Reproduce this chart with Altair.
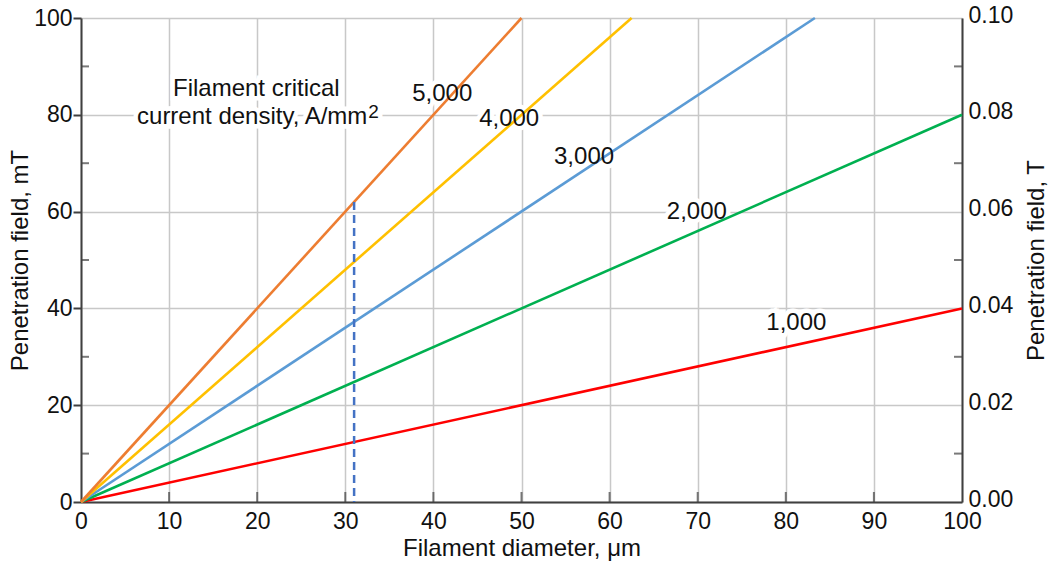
import altair as alt
import pandas as pd

# Filament critical current densities (A/mm²) and the colour of each line
jc_labels = ["1,000", "2,000", "3,000", "4,000", "5,000"]
line_colors = ["#FF0000", "#00B050", "#5B9BD5", "#FFC000", "#ED7D31"]

# Every line starts at the origin and ends here (diameter µm, field mT)
end_diameter = [100, 100, 83.3, 62.5, 50]
end_field = [40, 80, 100, 100, 100]

# Where each density label sits (diameter, field)
label_x = [81.2, 69.9, 57.1, 48.6, 41.0]
label_y = [36.9, 59.9, 71.3, 79.2, 84.4]

# Caption for the set of lines: a centred first line, a second line that
# ends at a given diameter, and the raised "2" of mm²
caption_first = ["Filament critical"]
caption_first_x = [19.9]
caption_first_y = [85.4]
caption_second = ["current density, A/mm"]
caption_second_end_x = [32.5]
caption_second_y = [79.6]
caption_sup = ["2"]
caption_sup_x = [32.6]
caption_sup_y = [80.6]

# Dashed marker: 31 µm, up to the 5,000 A/mm² line
marker_diameter = [31]
marker_field = [62]

# Axis ticks
x_ticks = [0, 10, 20, 30, 40, 50, 60, 70, 80, 90, 100]
x_inner_ticks = [10, 20, 30, 40, 50, 60, 70, 80, 90]
y_major = [0, 20, 40, 60, 80, 100]
y_minor = [10, 30, 50, 70, 90]
tesla_ticks = [0.0, 0.02, 0.04, 0.06, 0.08, 0.10]

FONT = "Liberation Sans"
DARK = "#404040"
GRID = "#c8c8c8"
INK = "#111111"
TEXT_SIZE = 24

# ---- tables -------------------------------------------------------------
rows = []
for name, d1, b1 in zip(jc_labels, end_diameter, end_field):
    rows.append({"jc": name, "d": 0, "b": 0})
    rows.append({"jc": name, "d": d1, "b": b1})
lines_df = pd.DataFrame(rows)

centred_df = pd.DataFrame({
    "label": jc_labels + caption_first,
    "d": label_x + caption_first_x,
    "b": label_y + caption_first_y,
})
right_df = pd.DataFrame({"label": caption_second, "d": caption_second_end_x, "b": caption_second_y})
sup_df = pd.DataFrame({"label": caption_sup, "d": caption_sup_x, "b": caption_sup_y})

marker_df = pd.DataFrame({"d": marker_diameter, "b": marker_field, "b0": [0]})

left_minor_df = pd.DataFrame({"d": [0] * len(y_minor), "b": y_minor})
right_minor_df = pd.DataFrame({"d": [100] * len(y_minor), "b": y_minor})
bottom_ticks_df = pd.DataFrame({"d": x_inner_ticks, "b": [0] * len(x_inner_ticks)})
tesla_df = pd.DataFrame({"d": [0, 100], "t": [tesla_ticks[0], tesla_ticks[-1]]})

# ---- shared scales and axes --------------------------------------------
x_scale = alt.Scale(domain=[0, 100], nice=False, zero=True)
y_scale = alt.Scale(domain=[0, 100], nice=False, zero=True)

x_axis = alt.Axis(
    values=x_ticks, ticks=False, tickSize=0, grid=True, gridColor=GRID, gridWidth=1.5,
    domainColor=DARK, domainWidth=2, labelPadding=8, labelFlush=False,
    title="Filament diameter, μm", titleBaseline="alphabetic", titleY=53,
)
y_axis = alt.Axis(
    values=y_major, ticks=True, tickSize=8, tickColor=DARK, tickWidth=2,
    grid=True, gridColor=GRID, gridWidth=1.5, labelFlush=False,
    domainColor=DARK, domainWidth=2, labelPadding=1,
    title="Penetration field, mT", titleAngle=270, titleBaseline="alphabetic",
    titleX=-54, titleY=242,
)


def xe(field="d"):
    return alt.X(f"{field}:Q", scale=x_scale, axis=x_axis)


def ye(field="b"):
    return alt.Y(f"{field}:Q", scale=y_scale, axis=y_axis)


def text_layer(df, size, align, color, halo=False):
    style = dict(font=FONT, fontSize=size, align=align, color=color)
    if halo:
        style.update(color="white", stroke="white", strokeWidth=9)
    return alt.Chart(df).mark_text(**style).encode(x=xe(), y=ye(), text="label:N")


# ---- layers -------------------------------------------------------------
# white halo behind the labels hides the grid underneath them
halos = [
    text_layer(centred_df, TEXT_SIZE, "center", "white", halo=True),
    text_layer(right_df, TEXT_SIZE, "right", "white", halo=True),
    text_layer(sup_df, 19, "left", "white", halo=True),
]

lines = alt.Chart(lines_df).mark_line(strokeWidth=2.6).encode(
    x=xe(), y=ye(),
    color=alt.Color("jc:N", scale=alt.Scale(domain=jc_labels, range=line_colors), legend=None),
    detail="jc:N",
)

marker = alt.Chart(marker_df).mark_rule(
    color="#4472C4", strokeWidth=2.5, strokeDash=[8, 5]
).encode(x=xe(), y=ye(), y2="b0:Q")

texts = [
    text_layer(centred_df, TEXT_SIZE, "center", INK),
    text_layer(right_df, TEXT_SIZE, "right", INK),
    text_layer(sup_df, 19, "left", INK),
]

left_minor = alt.Chart(left_minor_df).mark_tick(
    orient="horizontal", size=8, thickness=2, xOffset=4, color=DARK
).encode(x=xe(), y=ye())

right_minor = alt.Chart(right_minor_df).mark_tick(
    orient="horizontal", size=8, thickness=2, xOffset=-4, color=DARK
).encode(x=xe(), y=ye())

bottom_ticks = alt.Chart(bottom_ticks_df).mark_tick(
    orient="vertical", size=10, thickness=2, yOffset=-5, color=DARK
).encode(x=xe(), y=ye())

main = alt.layer(*halos, lines, marker, *texts, left_minor, right_minor, bottom_ticks)

# right-hand axis in tesla
tesla = alt.Chart(tesla_df).mark_line(opacity=0).encode(
    x=xe(),
    y=alt.Y(
        "t:Q",
        scale=alt.Scale(domain=[0, 0.1], nice=False, zero=True),
        axis=alt.Axis(
            orient="right", values=tesla_ticks, format=".2f", ticks=False, grid=False,
            domainColor=DARK, domainWidth=2, labelPadding=6, labelFlush=False,
            labelOffset=-3,
            title="Penetration field, T", titleAngle=270, titleBaseline="alphabetic",
            titleX=81, titleY=242,
        ),
    ),
)

chart = (
    alt.layer(main, tesla)
    .resolve_scale(y="independent")
    .properties(
        width=881, height=484,
        autosize=alt.AutoSizeParams(type="none"),
        padding={"left": 81, "top": 18, "right": 88, "bottom": 64},
        background="white",
    )
    .configure_view(stroke=None)
    .configure_axis(
        labelFont=FONT, labelFontSize=23, labelColor=INK,
        titleFont=FONT, titleFontSize=24, titleColor=INK, titleFontWeight="normal",
    )
)

chart.save("out.html", embed_options={"renderer": "svg", "actions": False})
